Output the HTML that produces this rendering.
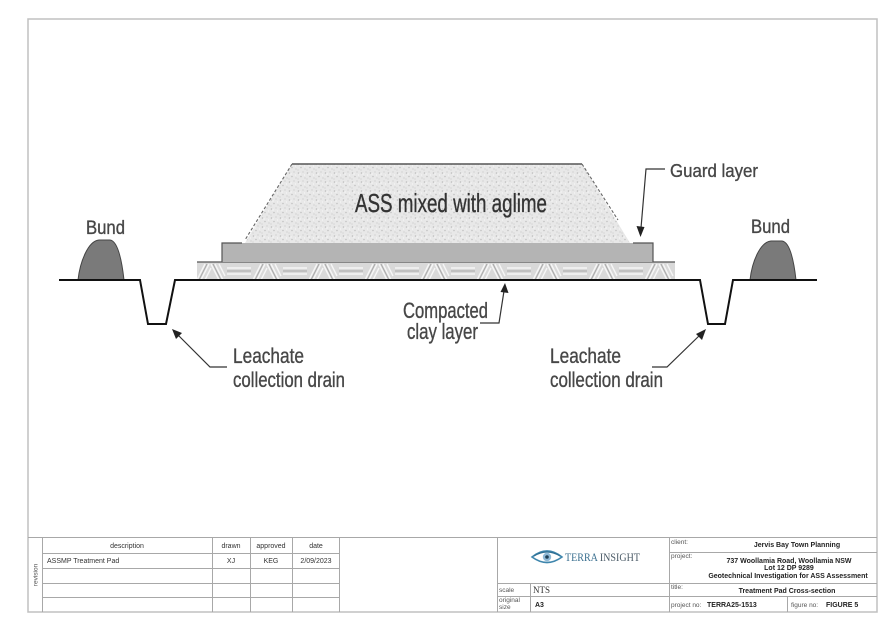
<!DOCTYPE html>
<html>
<head>
<meta charset="utf-8">
<style>
  html,body{margin:0;padding:0;background:#fff;}
  body{width:887px;height:628px;overflow:hidden;}
  svg{display:block;}
  .lbl{font-family:"Liberation Sans",Arial,sans-serif;fill:#474747;stroke:#474747;stroke-width:0.35px;}
  .tb{font-family:"Liberation Sans",Arial,sans-serif;font-size:7px;fill:#333;}
  .tbb{font-family:"Liberation Sans",Arial,sans-serif;font-size:7px;font-weight:bold;fill:#222;}
  .tbs{font-family:"Liberation Sans",Arial,sans-serif;font-size:6.5px;fill:#555;}
</style>
</head>
<body>
<svg width="887" height="628" viewBox="0 0 887 628" xmlns="http://www.w3.org/2000/svg">
  <defs>
    <pattern id="speck" width="9" height="9" patternUnits="userSpaceOnUse">
      <rect width="9" height="9" fill="#e8e8e8"/>
      <circle cx="1.5" cy="2" r="0.8" fill="#bdbdbd"/>
      <circle cx="6" cy="1" r="0.6" fill="#c8c8c8"/>
      <circle cx="4" cy="5.5" r="0.8" fill="#c2c2c2"/>
      <circle cx="8" cy="7" r="0.6" fill="#c6c6c6"/>
      <circle cx="1" cy="8" r="0.6" fill="#cccccc"/>
      <circle cx="7.5" cy="4" r="0.6" fill="#f8f8f8"/>
      <circle cx="3" cy="3" r="0.7" fill="#fafafa"/>
    </pattern>
    <pattern id="hatch" x="197" y="262" width="56" height="18" patternUnits="userSpaceOnUse">
      <rect width="56" height="18" fill="#d9d9d9"/>
      <g stroke="#f6f6f6" stroke-width="1.4">
        <line x1="0" y1="18" x2="8" y2="2"/>
        <line x1="4" y1="18" x2="12" y2="2"/>
        <line x1="8" y1="18" x2="14" y2="6"/>
        <line x1="14" y1="2" x2="22" y2="18"/>
        <line x1="18" y1="2" x2="26" y2="18"/>
        <line x1="22" y1="2" x2="28" y2="14"/>
        <line x1="30" y1="6" x2="54" y2="6"/>
        <line x1="30" y1="12" x2="54" y2="12"/>
      </g>
      <g stroke="#a8a8a8" stroke-width="0.9">
        <line x1="2" y1="18" x2="10" y2="2"/>
        <line x1="16" y1="2" x2="24" y2="18"/>
        <line x1="30" y1="9" x2="54" y2="9"/>
      </g>
    </pattern>
  </defs>

  <!-- outer frame -->
  <rect x="28" y="19" width="849" height="593" fill="none" stroke="#c0c0c0" stroke-width="1.5"/>

  <!-- pile (ASS mixed with aglime) -->
  <path d="M292,164 L582,164 L630,243 L245,243 Z" fill="url(#speck)"/>
  <line x1="292" y1="164" x2="582" y2="164" stroke="#555" stroke-width="1.6"/>
  <line x1="292" y1="164" x2="245" y2="240" stroke="#666" stroke-width="1.1" stroke-dasharray="3,2"/>
  <line x1="582" y1="164" x2="618" y2="220" stroke="#666" stroke-width="1.1" stroke-dasharray="3,2"/>

  <!-- clay layer (hatched) -->
  <rect x="197" y="262" width="478" height="18" fill="url(#hatch)"/>
  <line x1="197" y1="262" x2="675" y2="262" stroke="#555" stroke-width="1.2"/>

  <!-- guard layer -->
  <rect x="222" y="243" width="431" height="19" fill="#b4b4b4"/>
  <path d="M242,243 H222 V262" fill="none" stroke="#555" stroke-width="1.2"/>
  <path d="M633,243 H653 V262" fill="none" stroke="#555" stroke-width="1.2"/>

  <!-- bunds -->
  <path d="M78,280 C80,262 88,241 99,240 L110,240 C118,241 122,262 124,280 Z" fill="#7a7a7a" stroke="#444" stroke-width="1"/>
  <path d="M750,280 C752,262 760,242 771,241 L782,241 C790,242 794,262 796,280 Z" fill="#7a7a7a" stroke="#444" stroke-width="1"/>

  <!-- ground line with drains -->
  <path d="M59,280 H140 L148,324 H166 L175,280 H700 L708,324 H725 L733,280 H817" fill="none" stroke="#111" stroke-width="2"/>

  <!-- leaders / arrows -->
  <g stroke="#333" stroke-width="1.2" fill="none">
    <path d="M227,367 H210 L177,334"/>
    <path d="M652,367 H667 L701,334"/>
    <path d="M665,169 H646 L641,228"/>
    <path d="M480,323 H499 L504,291"/>
  </g>
  <g fill="#222">
    <polygon points="172,329 182,333 176,339"/>
    <polygon points="706,329 702,340 696,334"/>
    <polygon points="640.5,237 636.5,226 644.5,227"/>
    <polygon points="505,283 508.5,293 500.5,292"/>
  </g>

  <!-- labels -->
  <text class="lbl" x="86" y="234" font-size="19" textLength="39" lengthAdjust="spacingAndGlyphs">Bund</text>
  <text class="lbl" x="751" y="233" font-size="19" textLength="39" lengthAdjust="spacingAndGlyphs">Bund</text>
  <text class="lbl" x="670" y="177" font-size="18.5" textLength="88" lengthAdjust="spacingAndGlyphs">Guard layer</text>
  <text class="lbl" x="355" y="212" font-size="26" style="fill:#333;stroke:#333" textLength="192" lengthAdjust="spacingAndGlyphs">ASS mixed with aglime</text>
  <text class="lbl" x="403" y="318" font-size="22" textLength="85" lengthAdjust="spacingAndGlyphs">Compacted</text>
  <text class="lbl" x="407" y="339" font-size="22" textLength="71" lengthAdjust="spacingAndGlyphs">clay layer</text>
  <text class="lbl" x="233" y="363" font-size="21" textLength="71" lengthAdjust="spacingAndGlyphs">Leachate</text>
  <text class="lbl" x="233" y="387" font-size="21" textLength="112" lengthAdjust="spacingAndGlyphs">collection drain</text>
  <text class="lbl" x="550" y="363" font-size="21" textLength="71" lengthAdjust="spacingAndGlyphs">Leachate</text>
  <text class="lbl" x="550" y="387" font-size="21" textLength="113" lengthAdjust="spacingAndGlyphs">collection drain</text>

  <!-- title block lines -->
  <g stroke="#a8a8a8" stroke-width="1" fill="none">
    <line x1="28" y1="537.5" x2="877" y2="537.5"/>
    <line x1="42.5" y1="537" x2="42.5" y2="612"/>
    <line x1="212.5" y1="537" x2="212.5" y2="612"/>
    <line x1="250.5" y1="537" x2="250.5" y2="612"/>
    <line x1="292.5" y1="537" x2="292.5" y2="612"/>
    <line x1="339.5" y1="537" x2="339.5" y2="612"/>
    <line x1="42" y1="553.5" x2="339" y2="553.5"/>
    <line x1="42" y1="568.5" x2="339" y2="568.5"/>
    <line x1="42" y1="583.5" x2="339" y2="583.5"/>
    <line x1="42" y1="597.5" x2="339" y2="597.5"/>
    <line x1="497.5" y1="537" x2="497.5" y2="612"/>
    <line x1="669.5" y1="537" x2="669.5" y2="612"/>
    <line x1="497" y1="583.5" x2="669" y2="583.5"/>
    <line x1="497" y1="596.5" x2="669" y2="596.5"/>
    <line x1="530.5" y1="583" x2="530.5" y2="612"/>
    <line x1="669" y1="552.5" x2="877" y2="552.5"/>
    <line x1="669" y1="583.5" x2="877" y2="583.5"/>
    <line x1="669" y1="596.5" x2="877" y2="596.5"/>
    <line x1="787.5" y1="596" x2="787.5" y2="612"/>
  </g>

  <!-- revision table text -->
  <text class="tb" x="127" y="548" text-anchor="middle">description</text>
  <text class="tb" x="231" y="548" text-anchor="middle">drawn</text>
  <text class="tb" x="271" y="548" text-anchor="middle">approved</text>
  <text class="tb" x="316" y="548" text-anchor="middle">date</text>
  <text class="tb" x="47" y="563">ASSMP Treatment Pad</text>
  <text class="tb" x="231" y="563" text-anchor="middle">XJ</text>
  <text class="tb" x="271" y="563" text-anchor="middle">KEG</text>
  <text class="tb" x="316" y="563" text-anchor="middle">2/09/2023</text>
  <text class="tbs" x="0" y="0" text-anchor="middle" transform="translate(37.5,575) rotate(-90)">revision</text>

  <!-- logo -->
  <g>
    <path d="M532,557 Q547,545 562,557 Q547,568 532,557 Z" fill="#fff" stroke="#3f86ad" stroke-width="1.6"/>
    <path d="M534,556 Q547,548 560,556" fill="none" stroke="#2d6e92" stroke-width="1.2"/>
    <circle cx="547" cy="557" r="4.2" fill="#8fb9d6"/>
    <circle cx="547" cy="557" r="1.8" fill="#1e3f55"/>
    <text x="565" y="561" font-family="'Liberation Serif',serif" font-size="11.5" fill="#3a6f8f" textLength="75" lengthAdjust="spacingAndGlyphs">TERRA <tspan fill="#4a5a66">INSIGHT</tspan></text>
  </g>

  <text class="tbs" x="499" y="592">scale</text>
  <text x="533" y="593" font-family="'Liberation Serif',serif" font-size="9" fill="#333">NTS</text>
  <text class="tbs" x="499" y="602">original</text>
  <text class="tbs" x="499" y="609">size</text>
  <text class="tbb" x="535" y="607">A3</text>

  <!-- right info text -->
  <text class="tbs" x="671" y="544">client:</text>
  <text class="tbb" x="797" y="547" text-anchor="middle">Jervis Bay Town Planning</text>
  <text class="tbs" x="671" y="558">project:</text>
  <text class="tbb" x="789" y="563" text-anchor="middle">737 Woollamia Road, Woollamia NSW</text>
  <text class="tbb" x="789" y="570" text-anchor="middle">Lot 12 DP 9289</text>
  <text class="tbb" x="788" y="578" text-anchor="middle">Geotechnical Investigation for ASS Assessment</text>
  <text class="tbs" x="671" y="589">title:</text>
  <text class="tbb" x="787" y="593" text-anchor="middle">Treatment Pad Cross-section</text>
  <text class="tbs" x="671" y="607">project no:</text>
  <text class="tbb" x="707" y="607">TERRA25-1513</text>
  <text class="tbs" x="791" y="607">figure no:</text>
  <text class="tbb" x="826" y="607">FIGURE 5</text>
</svg>
</body>
</html>
